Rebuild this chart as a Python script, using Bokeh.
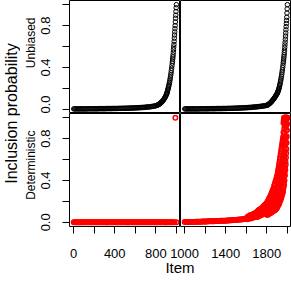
from bokeh.plotting import figure
from bokeh.layouts import row, column
from bokeh.models import FixedTicker, PrintfTickFormatter, Title, Range1d
from bokeh.embed import file_html
from bokeh.resources import INLINE

FONT = "Liberation Sans"

# ---------------- data ----------------
ROWS = ["Unbiased", "Deterministic"]
Y_AXIS_LABEL = "Inclusion probability"
X_AXIS_LABEL = "Item"

# Unbiased, items 1-1000
LU_ITEM = [1, 10, 20, 30, 40, 50, 60, 70, 80, 90, 100,
           110, 120, 130, 140, 150, 160, 170, 180, 190, 200,
           210, 220, 230, 240, 250, 260, 270, 280, 290, 300,
           310, 320, 330, 340, 350, 360, 370, 380, 390, 400,
           410, 420, 430, 440, 450, 460, 470, 480, 490, 500,
           510, 520, 530, 540, 550, 560, 570, 580, 590, 600,
           610, 620, 630, 640, 650, 660, 670, 680, 690, 700,
           710, 720, 730, 740, 750, 760, 770, 780, 790, 800,
           810, 815, 820, 825, 830, 835, 840, 845, 850, 855,
           860, 865, 870, 875, 880, 885, 890, 895, 900,
           903, 906, 909, 912, 915, 918, 921, 924, 927, 930,
           933, 936, 939, 942, 945, 948, 951, 954, 957, 960,
           962, 964, 966, 968, 970, 972, 974, 976, 978, 980,
           982, 984, 986, 988, 990, 992, 994, 996, 998, 1000]
LU_P = [0.004, 0.004, 0.004, 0.004, 0.004, 0.004, 0.004, 0.004, 0.004, 0.004, 0.004,
        0.004, 0.004, 0.004, 0.005, 0.005, 0.005, 0.005, 0.005, 0.005, 0.005,
        0.005, 0.005, 0.005, 0.006, 0.006, 0.006, 0.006, 0.006, 0.006, 0.006,
        0.006, 0.007, 0.007, 0.007, 0.007, 0.007, 0.007, 0.008, 0.008, 0.008,
        0.008, 0.008, 0.008, 0.009, 0.009, 0.009, 0.009, 0.010, 0.010, 0.010,
        0.010, 0.011, 0.011, 0.011, 0.012, 0.012, 0.012, 0.013, 0.013, 0.014,
        0.014, 0.015, 0.015, 0.016, 0.016, 0.017, 0.018, 0.018, 0.019, 0.020,
        0.021, 0.022, 0.023, 0.024, 0.025, 0.027, 0.028, 0.030, 0.032, 0.034,
        0.037, 0.039, 0.042, 0.045, 0.048, 0.051, 0.055, 0.059, 0.063, 0.068,
        0.073, 0.078, 0.084, 0.091, 0.098, 0.106, 0.115, 0.124, 0.135,
        0.142, 0.150, 0.158, 0.167, 0.182, 0.192, 0.203, 0.215, 0.228, 0.242,
        0.257, 0.273, 0.290, 0.308, 0.327, 0.348, 0.370, 0.393, 0.417, 0.442,
        0.46, 0.48, 0.50, 0.52, 0.545, 0.57, 0.595, 0.62, 0.65, 0.68,
        0.71, 0.74, 0.77, 0.80, 0.835, 0.87, 0.90, 0.935, 0.97, 1.0]

# Unbiased, items 1001-2000
RU_ITEM = [1001, 1010, 1020, 1030, 1040, 1050, 1060, 1070, 1080, 1090, 1100,
           1110, 1120, 1130, 1140, 1150, 1160, 1170, 1180, 1190, 1200,
           1210, 1220, 1230, 1240, 1250, 1260, 1270, 1280, 1290, 1300,
           1310, 1320, 1330, 1340, 1350, 1360, 1370, 1380, 1390, 1400,
           1410, 1420, 1430, 1440, 1450, 1460, 1470, 1480, 1490, 1500,
           1510, 1520, 1530, 1540, 1550, 1560, 1570, 1580, 1590, 1600,
           1610, 1620, 1630, 1640, 1650, 1660, 1670, 1680, 1690, 1700,
           1710, 1720, 1730, 1740, 1750, 1760, 1770, 1780, 1790, 1800,
           1805, 1810, 1815, 1820, 1825, 1830, 1835, 1840, 1845, 1850,
           1855, 1860, 1865, 1870, 1875, 1880, 1885, 1890, 1895, 1900,
           1903, 1906, 1909, 1912, 1915, 1918, 1921, 1924, 1927, 1930,
           1933, 1936, 1939, 1942, 1945, 1948, 1951, 1954, 1957, 1960,
           1962, 1964, 1966, 1968, 1970, 1972, 1974, 1976, 1978, 1980,
           1982, 1984, 1986, 1988, 1990, 1992, 1994, 1996, 1998, 2000]
RU_P = [0.004, 0.004, 0.004, 0.004, 0.004, 0.004, 0.004, 0.004, 0.004, 0.004, 0.004,
        0.004, 0.004, 0.004, 0.004, 0.005, 0.005, 0.005, 0.005, 0.005, 0.005,
        0.005, 0.005, 0.005, 0.006, 0.006, 0.006, 0.006, 0.006, 0.006, 0.006,
        0.007, 0.007, 0.007, 0.007, 0.007, 0.007, 0.008, 0.008, 0.008, 0.008,
        0.008, 0.009, 0.009, 0.009, 0.009, 0.010, 0.010, 0.010, 0.011, 0.011,
        0.011, 0.012, 0.012, 0.013, 0.013, 0.014, 0.014, 0.015, 0.015, 0.016,
        0.016, 0.017, 0.018, 0.018, 0.019, 0.020, 0.021, 0.022, 0.023, 0.024,
        0.025, 0.026, 0.027, 0.028, 0.030, 0.031, 0.033, 0.034, 0.036, 0.038,
        0.040, 0.043, 0.046, 0.050, 0.054, 0.058, 0.063, 0.068, 0.073, 0.079,
        0.085, 0.091, 0.097, 0.104, 0.111, 0.118, 0.126, 0.134, 0.142, 0.150,
        0.156, 0.163, 0.171, 0.180, 0.190, 0.200, 0.211, 0.223, 0.236, 0.250,
        0.265, 0.281, 0.298, 0.316, 0.335, 0.355, 0.376, 0.398, 0.421, 0.445,
        0.462, 0.48, 0.50, 0.52, 0.542, 0.565, 0.59, 0.615, 0.642, 0.67,
        0.70, 0.73, 0.76, 0.79, 0.82, 0.85, 0.88, 0.92, 0.96, 1.0]

# Deterministic, items 1-1000
LD_ITEM = [1, 10, 20, 30, 40, 50, 60, 70, 80, 90, 100,
           110, 120, 130, 140, 150, 160, 170, 180, 190, 200,
           210, 220, 230, 240, 250, 260, 270, 280, 290, 300,
           310, 320, 330, 340, 350, 360, 370, 380, 390, 400,
           410, 420, 430, 440, 450, 460, 470, 480, 490, 500,
           510, 520, 530, 540, 550, 560, 570, 580, 590, 600,
           610, 620, 630, 640, 650, 660, 670, 680, 690, 700,
           710, 720, 730, 740, 750, 760, 770, 780, 790, 800,
           810, 820, 830, 840, 850, 860, 870, 880, 890, 900,
           910, 920, 930, 940, 950, 960, 970, 980, 990, 1000]
LD_P = [0, 0, 0, 0, 0, 0, 0, 0, 0, 0, 0,
        0, 0, 0, 0, 0, 0, 0, 0, 0, 0,
        0, 0, 0, 0, 0, 0, 0, 0, 0, 0,
        0, 0, 0, 0, 0, 0, 0, 0, 0, 0,
        0, 0, 0, 0, 0, 0, 0, 0, 0, 0,
        0, 0, 0, 0, 0, 0, 0, 0, 0, 0,
        0, 0, 0, 0, 0, 0, 0, 0, 0, 0,
        0, 0, 0, 0, 0, 0, 0, 0, 0, 0,
        0, 0, 0, 0, 0, 0, 0, 0, 0, 0,
        0, 0, 0, 0, 0, 0, 0, 0, 1.0, 0]

# Deterministic, items 1001-2000 (one or several items per position group)
RD_ITEM = [1001, 1010, 1020, 1030, 1040, 1050, 1060, 1070, 1080, 1090, 1100,
           1110, 1120, 1130, 1140, 1150, 1160, 1170, 1180, 1190, 1200,
           1210, 1220, 1230, 1240, 1250, 1260, 1270, 1280, 1290, 1300,
           1310, 1320, 1330, 1340, 1350, 1360, 1370, 1380, 1390, 1400,
           1410, 1420, 1430, 1440, 1450, 1460, 1470, 1480, 1490, 1500,
           1510, 1520, 1530, 1540, 1550, 1560, 1570, 1580, 1590, 1600,
           1610, 1620, 1630, 1640, 1650, 1660, 1670, 1680, 1690, 1700,
           1705, 1710, 1715, 1720, 1725, 1730, 1735, 1740, 1745, 1750,
           1755, 1760, 1765, 1770, 1775, 1780, 1785, 1790, 1795, 1800,
           1804, 1808, 1812, 1816, 1820, 1824, 1828, 1832, 1836, 1840, 1844, 1848,
           1852, 1856, 1860, 1864, 1868, 1872, 1876, 1880, 1884, 1888, 1892, 1896, 1900,
           1903, 1906, 1909, 1912, 1915, 1918, 1921, 1924, 1927, 1930,
           1933, 1936, 1939, 1942, 1945, 1948, 1951, 1954, 1957, 1960,
           1962, 1964, 1966, 1968, 1970, 1972, 1974, 1976, 1978, 1980,
           1982, 1984, 1986, 1988, 1990, 1992, 1994, 1996, 1998, 2000]
RD_P = [[0.002], [0.002], [0.002], [0.003], [0.003], [0.003], [0.003], [0.004], [0.004], [0.004], [0.004],
        [0.005], [0.005], [0.005], [0.006], [0.006], [0.006], [0.007], [0.007], [0.007], [0.008],
        [0.008], [0.008], [0.009], [0.009], [0.009], [0.010], [0.010], [0.011], [0.011], [0.012],
        [0.012], [0.012], [0.013], [0.013], [0.014], [0.014], [0.015], [0.015], [0.016], [0.016],
        [0.017], [0.017], [0.018], [0.019], [0.019], [0.020], [0.021], [0.022], [0.022], [0.023],
        [0.024], [0.025], [0.026], [0.027], [0.028], [0.029], [0.030], [0.031], [0.032], [0.034],
        [0.03, 0.05], [0.04, 0.055], [0.035, 0.06], [0.045, 0.07], [0.04, 0.065],
        [0.05, 0.075], [0.045, 0.08], [0.055, 0.085], [0.05, 0.09], [0.06, 0.095],
        [0.05, 0.1], [0.07, 0.09], [0.055, 0.11], [0.075, 0.1], [0.06, 0.12],
        [0.08, 0.105], [0.065, 0.125], [0.085, 0.11], [0.07, 0.13], [0.09, 0.12],
        [0.075, 0.14], [0.095, 0.125], [0.08, 0.15], [0.1, 0.135], [0.085, 0.16],
        [0.11, 0.145], [0.09, 0.17], [0.12, 0.155], [0.095, 0.18], [0.13, 0.165],
        [0.07, 0.13, 0.19], [0.09, 0.14, 0.2], [0.075, 0.13, 0.2], [0.095, 0.15, 0.21],
        [0.08, 0.14, 0.22], [0.1, 0.16, 0.23], [0.085, 0.15, 0.24], [0.105, 0.17, 0.24],
        [0.09, 0.16, 0.25], [0.11, 0.18, 0.26], [0.095, 0.17, 0.27], [0.115, 0.19, 0.28],
        [0.1, 0.18, 0.29], [0.12, 0.2, 0.3], [0.105, 0.19, 0.31], [0.125, 0.21, 0.32],
        [0.11, 0.2, 0.33], [0.13, 0.23, 0.35], [0.115, 0.22, 0.36], [0.14, 0.25, 0.37],
        [0.12, 0.24, 0.39], [0.15, 0.27, 0.4], [0.13, 0.26, 0.41], [0.16, 0.29, 0.43],
        [0.14, 0.28, 0.44],
        [0.15, 0.24, 0.34, 0.45], [0.17, 0.27, 0.37, 0.47], [0.16, 0.26, 0.36, 0.49],
        [0.18, 0.29, 0.4, 0.5], [0.17, 0.28, 0.39, 0.52], [0.19, 0.31, 0.43, 0.54],
        [0.18, 0.3, 0.42, 0.56], [0.21, 0.33, 0.46, 0.58], [0.2, 0.32, 0.45, 0.6],
        [0.22, 0.35, 0.49, 0.62], [0.21, 0.34, 0.48, 0.64], [0.24, 0.37, 0.52, 0.66],
        [0.23, 0.36, 0.51, 0.68], [0.26, 0.4, 0.55, 0.7], [0.25, 0.39, 0.54, 0.72],
        [0.28, 0.43, 0.58, 0.74], [0.27, 0.42, 0.57, 0.76], [0.3, 0.46, 0.61, 0.78],
        [0.29, 0.45, 0.6, 0.8], [0.32, 0.49, 0.65, 0.82],
        [0.38, 0.5, 0.62, 0.74, 0.86, 0.95], [0.34, 0.55, 0.78, 0.97], [0.4, 0.6, 0.82, 0.98],
        [0.36, 0.57, 0.8, 1.0], [0.44, 0.66, 0.9, 1.0], [0.4, 0.63, 0.85, 0.99],
        [0.48, 0.7, 0.93, 1.0], [0.45, 0.68, 0.9, 1.0], [0.52, 0.76, 0.96, 1.0],
        [0.5, 0.74, 0.94, 1.0], [0.58, 0.82, 1.0], [0.55, 0.8, 0.98], [0.62, 0.88, 1.0],
        [0.66, 0.92, 1.0], [0.7, 0.95, 1.0], [0.76, 0.98, 1.0], [0.82, 1.0], [0.88, 1.0],
        [0.94, 1.0], [1.0]]

Y_TICKS = [0.0, 0.4, 0.8]
Y_MINOR = [0.2, 0.6, 1.0]
LX_TICKS = [0, 400, 800]
LX_MINOR = [200, 600, 1000]
RX_TICKS = [1000, 1400, 1800]
RX_MINOR = [1200, 1600, 2000]

LEFT_XR = (-40, 1040)
RIGHT_XR = (960, 2040)
YR = (-0.04, 1.04)

# ---------------- layout ----------------
PW_L = 112
PW_R = 111
PH = 113
LEFT_SPACE = 48
BOTTOM_SPACE = 40
LAB_W = 20
XLAB_H = 26
OVERLAP = 12     # right column canvas reaches into the left one (transparent), so labels are not cut


def style_axis(ax, ticks, minor, fmt=None, vertical=False, standoff=12):
    ax.ticker = FixedTicker(ticks=ticks, minor_ticks=minor)
    if fmt:
        ax.formatter = PrintfTickFormatter(format=fmt)
    ax.axis_line_color = None
    ax.major_tick_in = 0
    ax.major_tick_out = 7
    ax.minor_tick_in = 0
    ax.minor_tick_out = 7
    ax.major_tick_line_color = "black"
    ax.minor_tick_line_color = "black"
    ax.major_label_text_font = FONT
    ax.major_label_text_font_size = "13px"
    ax.major_label_text_color = "black"
    ax.major_label_standoff = standoff
    if vertical:
        ax.major_label_orientation = "vertical"


def panel(xr, w, h, left=False, bottom=False, right_col=False):
    p = figure(width=w, height=h, x_range=Range1d(*xr), y_range=Range1d(*YR),
               output_backend="svg", toolbar_location=None,
               x_axis_location="below" if bottom else None,
               y_axis_location="left" if left else None,
               min_border_left=LEFT_SPACE if left else (OVERLAP if right_col else 0),
               min_border_right=0,
               min_border_top=0, min_border_bottom=BOTTOM_SPACE if bottom else 0)
    p.grid.visible = False
    p.outline_line_color = "black"
    p.outline_line_width = 1
    p.background_fill_color = "white"
    p.border_fill_color = None if right_col else "white"
    if right_col:
        p.margin = (0, 0, 0, -OVERLAP)
    return p


tl = panel(LEFT_XR, LEFT_SPACE + PW_L, PH, left=True)
tr = panel(RIGHT_XR, OVERLAP + PW_R, PH, right_col=True)
bl = panel(LEFT_XR, LEFT_SPACE + PW_L, PH + BOTTOM_SPACE, left=True, bottom=True)
br = panel(RIGHT_XR, OVERLAP + PW_R, PH + BOTTOM_SPACE, bottom=True, right_col=True)

for p, strip in ((tl, ROWS[0]), (bl, ROWS[1])):
    style_axis(p.yaxis[0], Y_TICKS, Y_MINOR, fmt="%.1f", vertical=True, standoff=12)
    p.add_layout(Title(text=strip, align="right", offset=17, standoff=2,
                       text_font=FONT, text_font_size="12px", text_font_style="normal",
                       text_color="black"), "left")

style_axis(bl.xaxis[0], LX_TICKS, LX_MINOR, standoff=15)
style_axis(br.xaxis[0], RX_TICKS, RX_MINOR, standoff=15)

tl.scatter(LU_ITEM, LU_P, marker="circle", size=4.5, fill_color=None, line_color="black", line_width=1)
tr.scatter(RU_ITEM, RU_P, marker="circle", size=4.5, fill_color=None, line_color="black", line_width=1)
bl.scatter(LD_ITEM, LD_P, marker="circle", size=4.5, fill_color=None, line_color="#FF0000", line_width=1.5)

rd_x, rd_y = [], []
for it, vals in zip(RD_ITEM, RD_P):
    for v in vals:
        rd_x.append(it)
        rd_y.append(v)
br.scatter(rd_x, rd_y, marker="circle", size=4.5, fill_color=None, line_color="#FF0000", line_width=1.5)

# y label (spans both rows)
ylab = figure(width=LAB_W, height=2 * PH, output_backend="svg", toolbar_location=None,
              x_axis_location=None, y_axis_location=None, min_border=0,
              x_range=Range1d(0, 1), y_range=Range1d(0, 1))
ylab.grid.visible = False
ylab.outline_line_color = None
ylab.add_layout(Title(text=Y_AXIS_LABEL, align="center", text_font=FONT, text_font_size="16px",
                      text_font_style="normal", text_color="black", standoff=0), "left")

# x label (spans both columns)
xlab = figure(width=LEFT_SPACE + PW_L + PW_R, height=XLAB_H, output_backend="svg",
              toolbar_location=None, x_axis_location=None, y_axis_location=None, min_border=0,
              min_border_left=LEFT_SPACE, x_range=Range1d(0, 1), y_range=Range1d(0, 1))
xlab.grid.visible = False
xlab.outline_line_color = None
xlab.border_fill_color = None
xlab.background_fill_color = None
xlab.margin = (-10, 0, 0, 0)
xlab.add_layout(Title(text=X_AXIS_LABEL, align="center", text_font=FONT, text_font_size="15px",
                      text_font_style="normal", text_color="black", standoff=0), "above")

layout = row(ylab, column(row(tl, tr), row(bl, br), xlab))

open("out.html", "w").write(file_html(layout, INLINE))
